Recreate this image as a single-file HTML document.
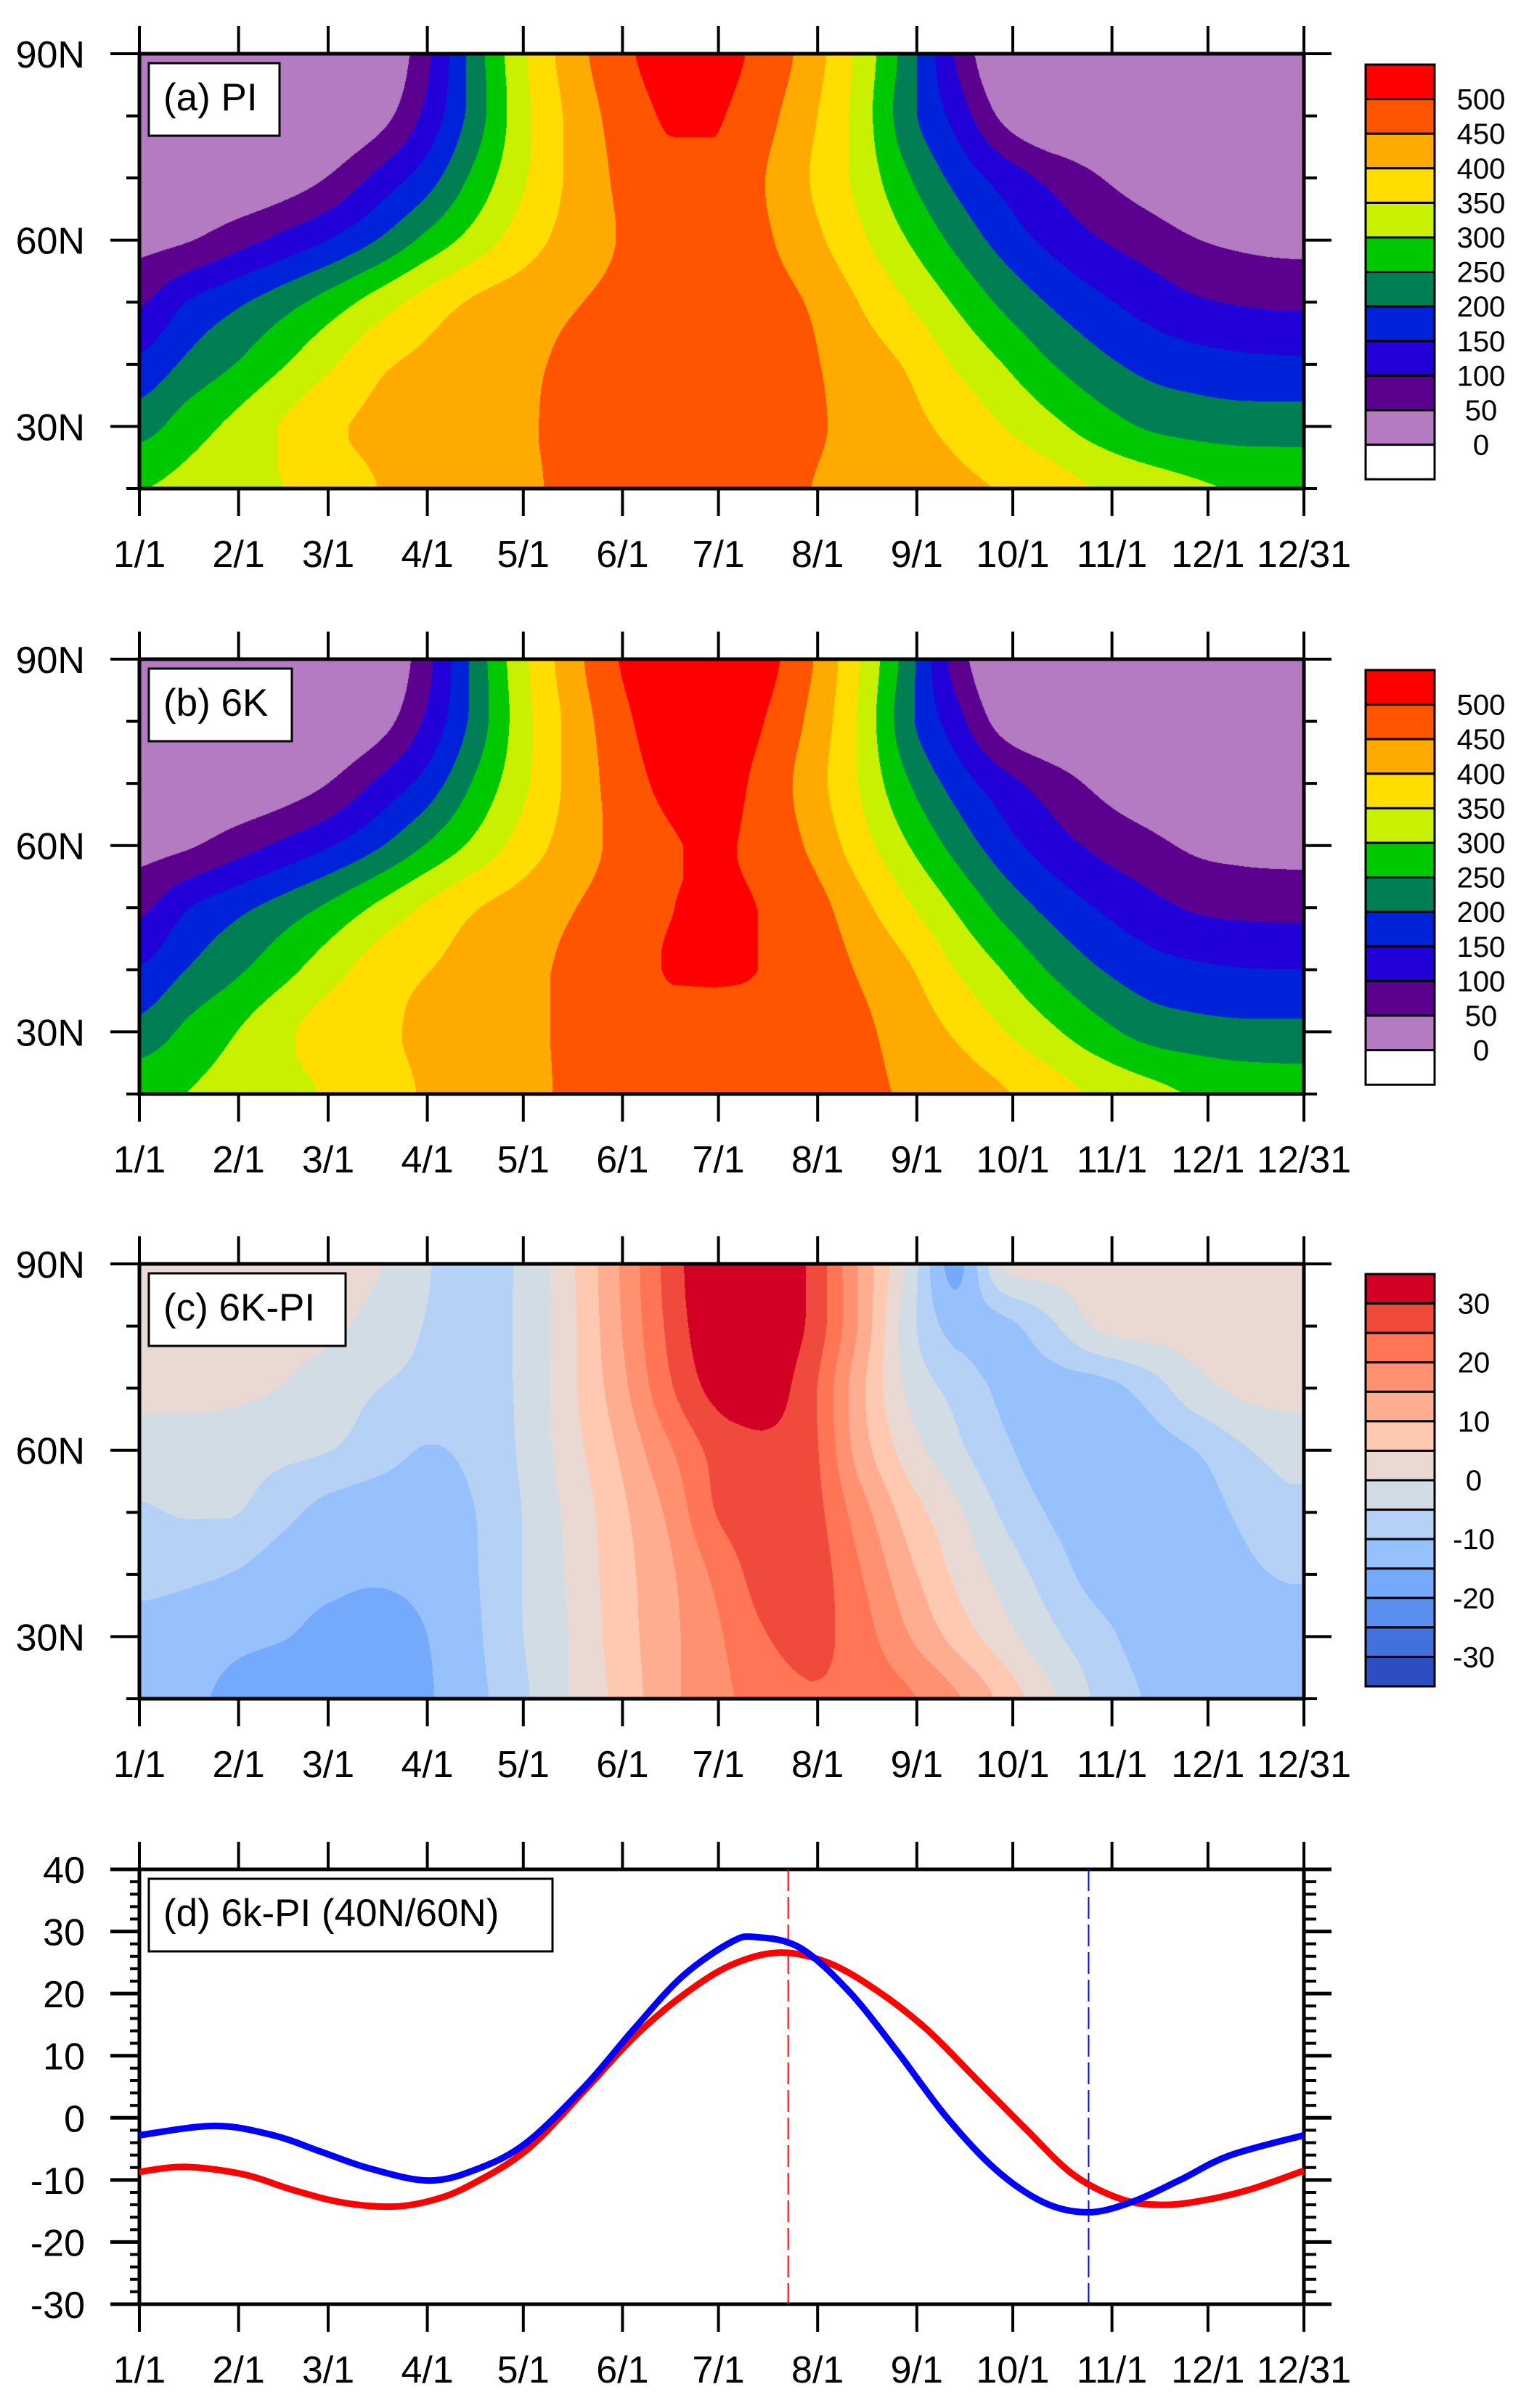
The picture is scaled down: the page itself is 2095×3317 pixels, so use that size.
<!DOCTYPE html>
<html><head><meta charset="utf-8"><style>
body{margin:0;width:2095px;height:3317px;background:#fff;position:relative;overflow:hidden;font-family:"Liberation Sans",Arial,sans-serif}
canvas{position:absolute}
svg{position:absolute;left:0;top:0}
</style></head><body>
<canvas id="ca" width="1604" height="599" style="left:192px;top:74px"></canvas>
<canvas id="cb" width="1604" height="599" style="left:192px;top:908px"></canvas>
<canvas id="cc" width="1604" height="599" style="left:192px;top:1741px"></canvas>
<svg id="ov" width="2095" height="3317"></svg>
<script>
// ---- data ----
const days=[0,15,30,45,60,75,90,105,120,135,150,165,180,195,210,225,240,255,270,285,300,315,330,345,360];
const lats=[90,80,70,60,50,40,30,20];
const piVals=[
[0,0,0,0,0,0,91,225,343,425,486,518,518,484,425,337,227,97,0,0,0,0,0,0,0],
[0,0,0,0,0,30,116,225,335,412,469,505,505,467,409,330,219,135,40,0,0,0,0,0,0],
[0,0,5,22,56,116,178,265,344,410,458,488,490,452,398,336,256,187,131,87,52,25,5,0,0],
[35,47,80,115,154,204,265,322,376,420,452,475,478,458,415,361,300,238,181,137,102,77,52,40,35],
[94,152,190,230,274,324,371,407,427,446,462,482,480,470,445,399,350,295,240,195,160,131,107,96,91],
[162,211,251,297,345,391,412,427,442,458,470,488,482,472,455,425,395,346,300,252,214,186,172,163,160],
[230,275,313,355,392,410,423,436,447,456,465,472,472,465,455,438,414,386,350,313,275,245,232,226,226],
[298,315,333,350,376,401,420,432,445,456,464,469,468,462,450,437,424,411,396,372,347,327,308,295,290]];
const diffVals=[
[2,2,2,2,1.5,0.2,-4.7,-6.5,-4,4.3,15,26.5,35,35,29,14.5,-0.7,-16.5,0.5,2,2,2,2,2,2],
[2,2,2,1.5,0.8,-1.8,-5.3,-6.5,-4,3.9,14.5,25.7,34,34,28.8,14.5,-2.5,-12,-11.5,-6,0.8,2,2,2,2],
[1.5,1.5,1,-0.2,-2.5,-5,-6.5,-6.8,-4,4,13,23.8,31.5,32.5,26.4,11.7,-0.7,-6.6,-11,-12.3,-12,-7.9,-1.9,1,1.5],
[-2.5,-2.5,-3,-3.8,-5,-7.9,-10.3,-8.6,-4.1,3,10.5,19,26.5,29,26.5,13,2.9,-3.6,-9,-12.5,-13,-12.5,-10,-5.6,-3],
[-5.5,-4.6,-4.8,-8.5,-12,-13,-12.5,-10,-4.8,1.5,8.6,15.7,25,28,27,17.5,8,1.2,-5.7,-10.5,-13,-13.5,-12.5,-9.1,-6.5],
[-8,-9,-10.3,-13,-14,-14.5,-13.5,-10.3,-4.8,0.9,7.9,13.8,21,27,27.5,20.5,11.7,4.2,-1.8,-7.4,-12,-13,-13,-11,-9.5],
[-12.5,-13,-14,-14.8,-16.3,-17,-15,-10.8,-5,0.4,7.4,13.4,19,24.6,26.5,22.4,15.4,8.3,2,-3.8,-8.4,-12,-12.5,-12.5,-12.5],
[-13.5,-14.3,-16,-18,-18.5,-18,-15.5,-11.4,-5.8,0.4,6.5,13.4,18.4,22,24.6,23.5,20.8,15.8,8.5,0.8,-6,-10.4,-12.5,-13,-13.3]];
const levelsA=[0,50,100,150,200,250,300,350,400,450,500];
const colorsA=["#ffffff","#b57bc2","#5c0090","#2200d8","#0022d8","#007f55","#00c800","#c8f000","#ffdd00","#ffaa00","#ff5500","#ff0000"];
const levelsC=[-30,-25,-20,-15,-10,-5,0,5,10,15,20,25,30];
const colorsC=["#2f4dc2","#4270dd","#5a8ff0","#75a9fb","#97c1fc","#b5d1f5","#d2dce5","#ead9d3","#ffc8b1","#ffad90","#ff9171","#ff7556","#f04a3c","#d10024"];
const cbLabelsA=["500","450","400","350","300","250","200","150","100","50","0"];
const cbLabelsC=["30","20","10","0","-10","-20","-30"];
const monthDays=[0,31,59,90,120,151,181,212,243,273,304,334,364];
const monthLabels=["1/1","2/1","3/1","4/1","5/1","6/1","7/1","8/1","9/1","10/1","11/1","12/1","12/31"];
const redDays=[0,14.3,32.6,47.9,63.1,78.4,90.6,102.8,121,139.3,154.6,169.8,185,200.3,215.6,230.8,246,261.3,276.5,291.8,307,319.2,331.4,346.7,364];
const redVals=[-8.7,-7.9,-9.1,-11.6,-13.6,-14.3,-13.4,-11,-5.2,4.5,13,19.7,24.6,26.6,24.9,20.4,14.3,6.4,-1.5,-9.1,-13.1,-14,-13.4,-11.6,-8.5];
const blueDays=[0,23.5,41.8,57,72.3,90.6,105.8,121,139.3,154.6,169.8,185,192.7,206.4,221.7,237,252,267.4,282.6,296.4,310,325.3,340.6,364];
const blueVals=[-2.8,-1.3,-2.8,-5.5,-8.2,-10.1,-8.2,-4,5.1,14.3,22.8,28.3,29.1,27.4,20.4,10.6,0.3,-8.2,-13.6,-15.2,-13.6,-10,-6.1,-2.8];
const redPeakDay=202.8, bluePeakDay=296.7;
const yTicksD=[-30,-20,-10,0,10,20,30,40];

// ---- geometry ----
const X0=192,X1=1796,H=599;
const tops=[74,908,1741,2575];
function xOf(d){return X0+d/364*(X1-X0);}
function latY(top,lat){return top+(90-lat)/70*H;}
function vY(v){return tops[3]+(40-v)/70*H;}
const bVals=piVals.map((r,i)=>r.map((v,j)=>Math.max(0.5,v+diffVals[i][j])));

function cr(p0,p1,p2,p3,t){const v=0.5*((2*p1)+(-p0+p2)*t+(2*p0-5*p1+4*p2-p3)*t*t+(-p0+3*p1-3*p2+p3)*t*t*t);
 const lo=Math.min(p1,p2),hi=Math.max(p1,p2);return v<lo?lo:(v>hi?hi:v);}
function interp(arr,t){const n=arr.length;let i=Math.floor(t);if(i<0)i=0;if(i>n-2)i=n-2;const f=t-i;
 return cr(arr[Math.max(i-1,0)],arr[i],arr[i+1],arr[Math.min(i+2,n-1)],f);}
function drawField(id,grid,levels,colors){
 const cv=document.getElementById(id),ctx=cv.getContext('2d');const W=cv.width,Hh=cv.height;
 const img=ctx.createImageData(W,Hh);const rgb=colors.map(c=>[parseInt(c.substr(1,2),16),parseInt(c.substr(3,2),16),parseInt(c.substr(5,2),16)]);
 const step=days[1]-days[0];
 for(let px=0;px<W;px++){
  let d=px/(W-1)*364; if(d>days[days.length-1])d=days[days.length-1];
  const col=grid.map(r=>interp(r,d/step));
  for(let py=0;py<Hh;py++){
   const lat=90-py/(Hh-1)*70;const v=interp(col,(90-lat)/10);
   let k=0;while(k<levels.length&&v>=levels[k])k++;
   const c=rgb[k];const o=(py*W+px)*4;img.data[o]=c[0];img.data[o+1]=c[1];img.data[o+2]=c[2];img.data[o+3]=255;
  }
 }
 ctx.putImageData(img,0,0);
}
drawField('ca',piVals,levelsA,colorsA);
drawField('cb',bVals,levelsA,colorsA);
drawField('cc',diffVals,levelsC,colorsC);

const NS="http://www.w3.org/2000/svg";const ov=document.getElementById('ov');
function mk(tag,at,parent){const e=document.createElementNS(NS,tag);for(const k in at)e.setAttribute(k,at[k]);(parent||ov).appendChild(e);return e;}
function line(x1,y1,x2,y2,w,name,col){const e=mk('line',{x1:x1,y1:y1,x2:x2,y2:y2,stroke:col||'#000','stroke-width':w});
 
 return e;}
function text(x,y,s,size,anchor,name){const e=mk('text',{x:x,y:y,'font-size':size,'text-anchor':anchor,'font-family':'"Liberation Sans",Arial,sans-serif',fill:'#000'});e.textContent=s;
 
 return e;}

const panelTitles=["(a) PI","(b) 6K","(c) 6K-PI","(d) 6k-PI (40N/60N)"];
const boxW=[180,197,271,556];
tops.forEach((top,p)=>{
 const bot=top+H;
 if(p===3){const bg=mk('rect',{x:X0,y:top,width:X1-X0,height:H,fill:'#fff'});}
 monthDays.forEach((d,i)=>{const x=xOf(d);
  line(x,top-38,x,top,4,'x-tick-top');line(x,bot,x,bot+38,4,'x-tick-bottom');
  text(x,bot+108,monthLabels[i],52,'middle','x-tick-label');});
 if(p<3){
  [90,80,70,60,50,40,30,20].forEach(l=>{const y=latY(top,l);const maj=(l%30===0);
   line(X0-(maj?40:18),y,X0,y,4,'y-tick-left');line(X1,y,X1+(maj?38:18),y,4,'y-tick-right');
   if(maj)text(117,y+19,l+'N',52,'end','y-tick-label');});
 } else {
  for(let v=-30;v<=40;v+=2){const y=vY(v);const maj=(v%10===0);
   line(X0-(maj?40:13),y,X0,y,maj?5:4,'y-tick-left');line(X1,y,X1+(maj?38:17),y,maj?5:4,'y-tick-right');}
  yTicksD.forEach(v=>text(117,vY(v)+19,String(v),52,'end','y-tick-label'));
 }
 const fr=mk('rect',{x:X0,y:top,width:X1-X0,height:H,fill:'none',stroke:'#000','stroke-width':5});
 
 
 const bx=mk('rect',{x:205,y:top+13,width:boxW[p],height:100,fill:'#fff',stroke:'#000','stroke-width':3});
 
 
 text(225,top+78,panelTitles[p],53,'start','panel-title');
});

function colorbar(top,colors,labels,boxH,labelEvery,labelX,name){
 const n=colors.length;
 for(let i=0;i<n;i++){const r=mk('rect',{x:1881,y:top+i*boxH,width:95,height:boxH,fill:colors[n-1-i],stroke:'#000','stroke-width':3});
  
  }
 labels.forEach((s,j)=>{const y=top+(1+j*labelEvery)*boxH;text(labelX,y+14,s,40,'middle',name+'-label');});
}
colorbar(89,colorsA,cbLabelsA,47.6,1,2040,'colorbar-a');
colorbar(923,colorsA,cbLabelsA,47.6,1,2040,'colorbar-b');
colorbar(1755,colorsC,cbLabelsC,40.57,2,2030,'colorbar-c');

function smoothPath(ds,vs){const pts=ds.map((d,i)=>[xOf(d),vY(vs[i])]);let s='M'+pts[0][0]+','+pts[0][1];
 for(let i=0;i<pts.length-1;i++){const p0=pts[Math.max(i-1,0)],p1=pts[i],p2=pts[i+1],p3=pts[Math.min(i+2,pts.length-1)];
  const c1=[p1[0]+(p2[0]-p0[0])/6,p1[1]+(p2[1]-p0[1])/6],c2=[p2[0]-(p3[0]-p1[0])/6,p2[1]-(p3[1]-p1[1])/6];
  s+=' C'+c1[0]+','+c1[1]+' '+c2[0]+','+c2[1]+' '+p2[0]+','+p2[1];}return s;}
const dr=line(xOf(redPeakDay),tops[3],xOf(redPeakDay),tops[3]+H,2,'red-peak-dashed-line','#ff0000');dr.setAttribute('stroke-dasharray','30 8');
const db=line(xOf(bluePeakDay),tops[3],xOf(bluePeakDay),tops[3]+H,2,'blue-peak-dashed-line','#0000ff');db.setAttribute('stroke-dasharray','30 8');
const pr=mk('path',{d:smoothPath(redDays,redVals),fill:'none',stroke:'#ff0000','stroke-width':9});


const pb=mk('path',{d:smoothPath(blueDays,blueVals),fill:'none',stroke:'#0000ff','stroke-width':9});


</script>
</body></html>
